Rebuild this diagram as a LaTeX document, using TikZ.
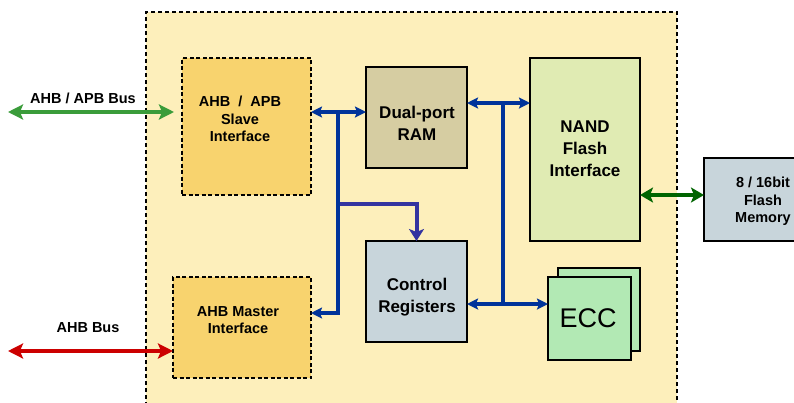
\documentclass[tikz,border=0pt]{standalone}
\usepackage{fontspec}
\setmainfont{Liberation Sans}
\usetikzlibrary{arrows.meta}
\definecolor{outerfill}{HTML}{FDEFBB}
\definecolor{iffill}{HTML}{F8D36E}
\definecolor{ramfill}{HTML}{D6CDA2}
\definecolor{nandfill}{HTML}{E0EBB3}
\definecolor{regfill}{HTML}{C8D5DB}
\definecolor{eccfill}{HTML}{B2E9B4}
\definecolor{busgreen}{HTML}{3A9C3A}
\definecolor{busred}{HTML}{CC0000}
\definecolor{busdkgreen}{HTML}{006400}
\definecolor{busblue}{HTML}{00339A}
\definecolor{busviolet}{HTML}{3434A0}
\tikzset{
  solidbox/.style={draw=black, line width=2pt, inner sep=0pt, outer sep=0pt},
  dashbox/.style={draw=black, line width=2pt, dash pattern=on 4pt off 2.5pt, inner sep=0pt, outer sep=0pt},
  small/.style={font=\bfseries\fontsize{14.5}{17.5}\selectfont, align=center, inner sep=0pt},
  big/.style={font=\bfseries\fontsize{17}{22}\selectfont, align=center, inner sep=0pt},
  bus/.style={line width=4pt, draw=busblue},
  bushead/.style={{Stealth[length=11pt,width=11pt,inset=2pt]}-{Stealth[length=11pt,width=11pt,inset=2pt]}},
  bigbus/.style={line width=4.5pt},
  bigheads/.style={{Stealth[length=15pt,width=15pt,inset=3pt]}-{Stealth[length=15pt,width=15pt,inset=3pt]}}
}
\begin{document}
\begin{tikzpicture}[x=1pt,y=-1pt]
\useasboundingbox (0,0) rectangle (794,402);
\clip (0,0) rectangle (794,402);
% outer block
\fill[outerfill] (146,12) rectangle (677,420);
\draw[line width=1.5pt, dash pattern=on 4pt off 3pt] (146,420) -- (146,12) -- (677,12) -- (677,420);
% boxes
\node[dashbox, fill=iffill, minimum width=129pt, minimum height=137pt] (slave) at (246.5,126.5) {};
\node[dashbox, fill=iffill, minimum width=138pt, minimum height=101pt] (master) at (242,327.5) {};
\node[solidbox, fill=ramfill, minimum width=101pt, minimum height=101pt] (ram) at (416.5,117.5) {};
\node[solidbox, fill=nandfill, minimum width=110pt, minimum height=183pt] (nand) at (585,149.5) {};
\node[solidbox, fill=regfill, minimum width=100pt, minimum height=83pt] (flash) at (754,199.5) {};
\node[solidbox, fill=regfill, minimum width=101pt, minimum height=101pt] (ctrl) at (416.5,291.5) {};
\node[solidbox, fill=eccfill, minimum width=82pt, minimum height=83pt] (eccback) at (599,309.5) {};
\node[solidbox, fill=eccfill, minimum width=83pt, minimum height=83pt] (ecc) at (589.5,318.5) {};
% texts
\node[small] (slave-t) at (240,119) {AHB \ / \ APB\\Slave\\Interface};
\node[small] (master-t) at (238,320) {AHB Master\\Interface};
\node[big] (ram-t) at (417,123) {Dual-port\\RAM};
\node[big] (nand-t) at (585,148.5) {NAND\\Flash\\Interface};
\node[small] (flash-t) at (763,201.5) {8 / 16bit\\Flash\\Memory};
\node[big] (ctrl-t) at (417,297) {Control\\Registers};
\node[font=\fontsize{27}{30}\selectfont, inner sep=0pt] (ecc-t) at (588,318.5) {ECC};
\node[small] (apb-l) at (83,98) {AHB / APB Bus};
\node[small] (ahb-l) at (88,328) {AHB Bus};
% external buses
\coordinate (g0) at (8,112);
\coordinate (r0) at (8,351);
\draw[bigbus, busgreen, bigheads, shorten >=8pt] (g0) -- (slave.west |- g0);
\draw[bigbus, busred, bigheads] (r0) -- (master.west |- r0);
\coordinate (d0) at (640,195);
\draw[bigbus, busdkgreen, {Stealth[length=13pt,width=15pt,inset=3pt]}-{Stealth[length=13pt,width=15pt,inset=3pt]}] (nand.east |- d0) -- (flash.west |- d0);
% internal blue buses
\coordinate (j1) at (338,112);
\coordinate (j2) at (338,313);
\coordinate (j3) at (338,204);
\draw[bus, busviolet, -{Stealth[length=12pt,width=15pt,inset=3pt]}] (j3) -| (ctrl.north);
\draw[bus, bushead] (slave.east |- j1) -- (ram.west |- j1);
\draw[bus, -{Stealth[length=11pt,width=11pt,inset=2pt]}, line join=miter] (j1) -- (j2) -- (master.east |- j2);
\coordinate (k1) at (503,103);
\coordinate (k2) at (503,304);
\draw[bus, bushead] (ram.east |- k1) -- (nand.west |- k1);
\draw[bus] (k1) -- (k2);
\draw[bus, bushead] (ctrl.east |- k2) -- (ecc.west |- k2);
\end{tikzpicture}
\end{document}
